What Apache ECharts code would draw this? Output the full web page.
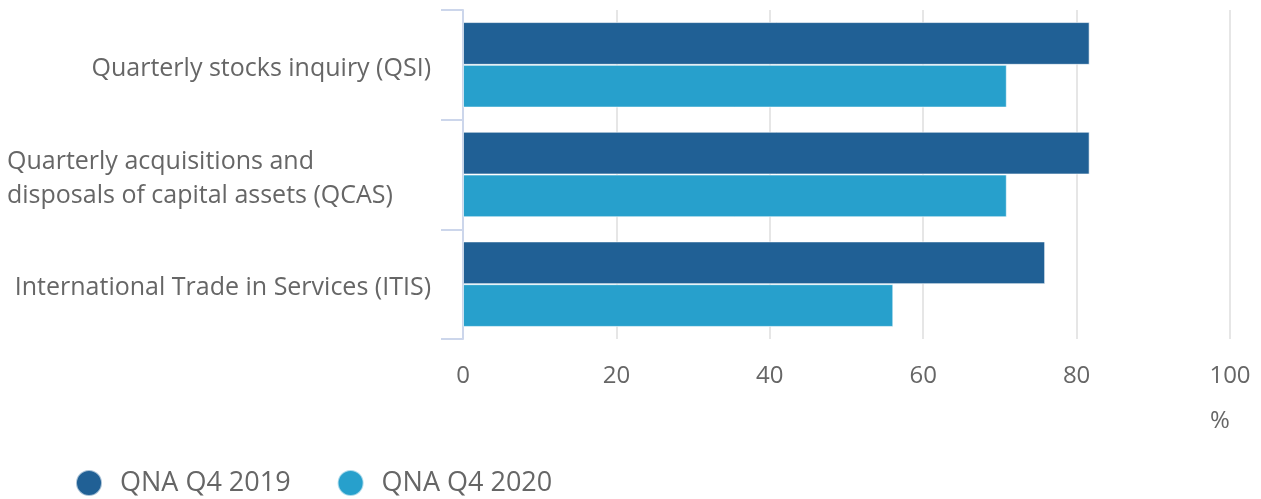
<!DOCTYPE html>
<html>
<head>
<meta charset="utf-8">
<script src="https://cdn.jsdelivr.net/npm/echarts@6/dist/echarts.min.js"></script>
<style>
  html, body { margin: 0; padding: 0; background: #ffffff; }
  #chart { width: 1261px; height: 499px; }
</style>
</head>
<body>
<div id="chart"></div>
<script>
// Survey names (top to bottom)
const categories = [
  'Quarterly stocks inquiry (QSI)',
  'Quarterly acquisitions and\ndisposals of capital assets (QCAS)',
  'International Trade in Services (ITIS)'
];
// Response rates, %
const seriesNames = ['QNA Q4 2019', 'QNA Q4 2020'];
const q4_2019 = [81.7, 81.7, 75.9];
const q4_2020 = [70.9, 70.9, 56.1];
const xTicks = [0, 20, 40, 60, 80, 100];

const textGrey = '#666666';
const font = '"Open Sans", "Noto Sans", sans-serif';

const chart = echarts.init(document.getElementById('chart'));
chart.setOption({
  animation: false,
  backgroundColor: '#ffffff',
  textStyle: { fontFamily: font },
  grid: { left: 463, right: 31, top: 10, bottom: 160, containLabel: false },
  legend: {
    left: 70,
    bottom: -3,
    icon: 'circle',
    itemWidth: 26,
    itemHeight: 26,
    itemGap: 46,
    data: seriesNames,
    textStyle: { fontFamily: font, fontSize: 27, color: textGrey, padding: [0, 0, 0, 13] }
  },
  xAxis: {
    type: 'value',
    min: xTicks[0],
    max: xTicks[xTicks.length - 1],
    interval: 20,
    axisLine: { show: false },
    axisTick: { show: false },
    splitLine: { show: true, lineStyle: { color: '#e6e6e6', width: 2 } },
    axisLabel: { fontFamily: font, fontSize: 24, color: textGrey, margin: 25 }
  },
  yAxis: {
    type: 'category',
    inverse: true,
    data: categories,
    axisLine: { show: true, lineStyle: { color: '#ccd6eb', width: 2 } },
    axisTick: { show: true, length: 22, lineStyle: { color: '#ccd6eb', width: 2 } },
    splitLine: { show: false },
    axisLabel: {
      fontFamily: font,
      fontSize: 25,
      color: textGrey,
      margin: 32,
      lineHeight: 34,
      padding: [8, 0, 0, 0],
      formatter: function (v) {
        return v.indexOf('\n') >= 0 ? '{w|' + v + '}' : v;
      },
      rich: {
        w: { width: 424, align: 'left', fontFamily: font, fontSize: 25, color: textGrey, lineHeight: 34 }
      }
    }
  },
  graphic: [{
    type: 'text',
    left: 1210,
    top: 409,
    style: { text: '%', fontFamily: font, fontSize: 24, fill: textGrey }
  }],
  series: [
    {
      name: seriesNames[0],
      type: 'bar',
      data: q4_2019,
      barGap: '0%',
      barCategoryGap: '22%',
      itemStyle: { color: '#206095', borderColor: 'rgba(255,255,255,0.6)', borderWidth: 1 }
    },
    {
      name: seriesNames[1],
      type: 'bar',
      data: q4_2020,
      barGap: '0%',
      barCategoryGap: '22%',
      itemStyle: { color: '#27a0cc', borderColor: 'rgba(255,255,255,0.6)', borderWidth: 1 }
    }
  ]
});
</script>
</body>
</html>
